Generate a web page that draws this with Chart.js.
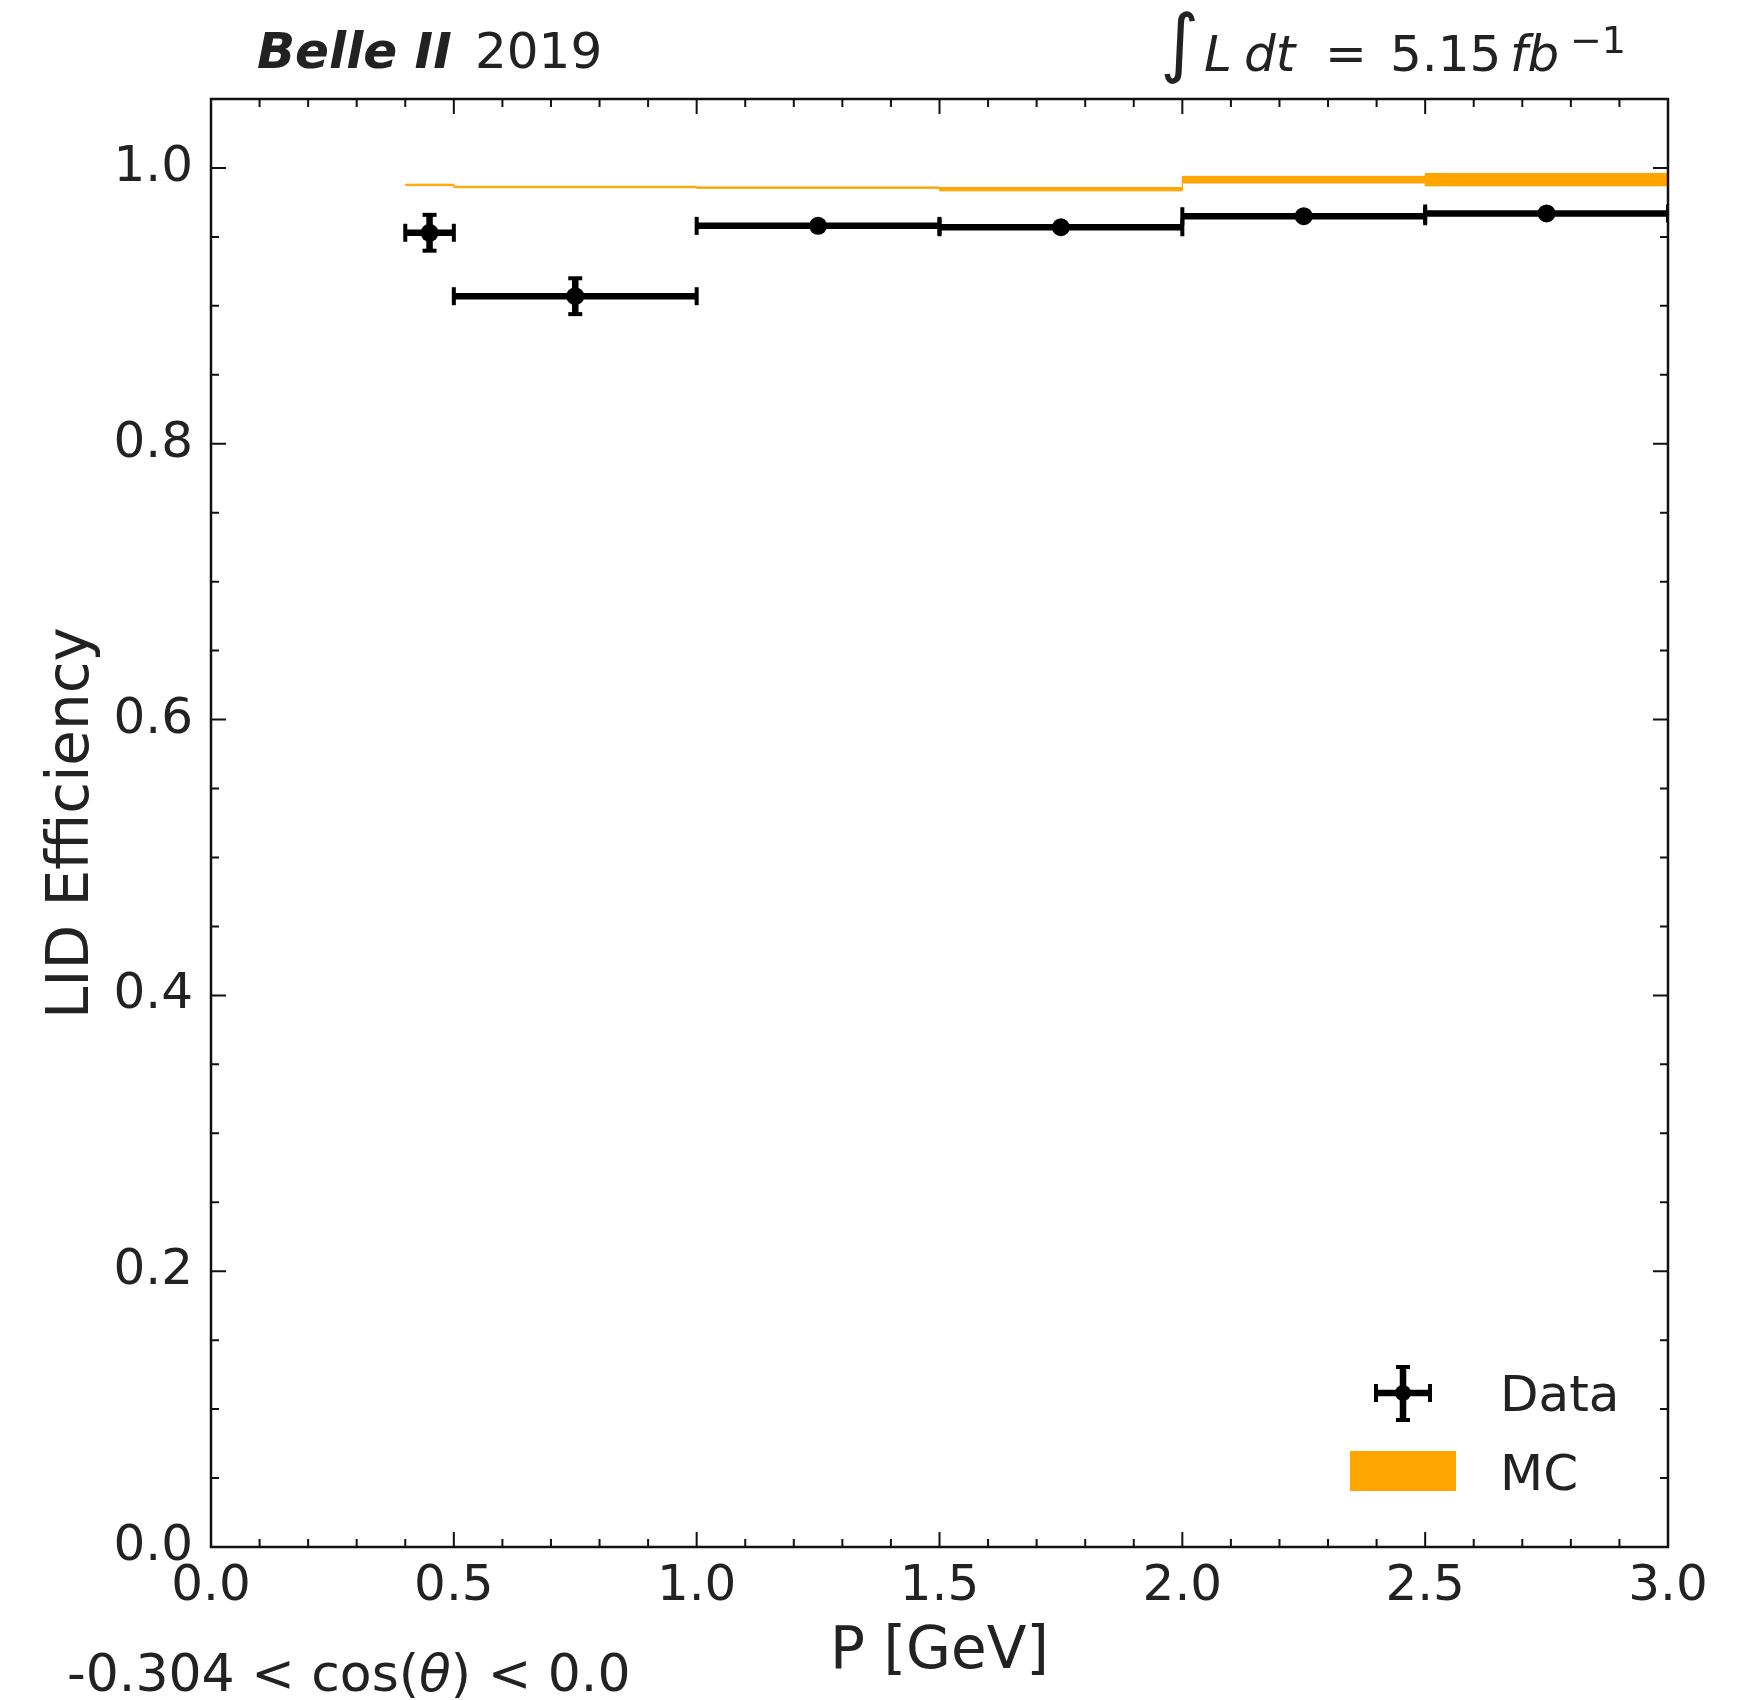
<!DOCTYPE html>
<html>
<head>
<meta charset="utf-8">
<script src="https://cdn.jsdelivr.net/npm/chart.js@4.4.1/dist/chart.umd.min.js"></script>
<style>
  html, body { margin: 0; padding: 0; background: #fff; }
  #wrap { width: 1758px; height: 1700px; position: relative; }
</style>
</head>
<body>
<div id="wrap"><canvas id="effChart"></canvas></div>
<script>
// bins in P [GeV]
const binLo = [0.4, 0.5, 1.0, 1.5, 2.0, 2.5];
const binHi = [0.5, 1.0, 1.5, 2.0, 2.5, 3.0];
// data efficiency and error
const dataEff = [0.953, 0.907, 0.958, 0.957, 0.965, 0.967];
const dataErr = [0.013, 0.013, 0.002, 0.002, 0.002, 0.002];
// MC efficiency and error (band)
const mcEff = [0.9877, 0.9862, 0.9857, 0.9846, 0.9915, 0.9915];
const mcErr = [0.0005, 0.0005, 0.0005, 0.0012, 0.0024, 0.0045];
// axis ticks
const xTicks = [0, 0.5, 1.0, 1.5, 2.0, 2.5, 3.0];
const yTicks = [0, 0.2, 0.4, 0.6, 0.8, 1.0];

const FONT = "'DejaVu Sans'";
const TXT = '#222';
const ORANGE = '#ffa500';

// MC band edges as step lines
const last = binHi.length - 1;
const mcUp = binLo.map((lo, i) => ({x: lo, y: mcEff[i] + mcErr[i]}));
mcUp.push({x: binHi[last], y: mcEff[last] + mcErr[last]});
const mcDown = binLo.map((lo, i) => ({x: lo, y: mcEff[i] - mcErr[i]}));
mcDown.push({x: binHi[last], y: mcEff[last] - mcErr[last]});

// data x error bars (segments separated by gaps)
const xBars = [];
binLo.forEach((lo, i) => {
  xBars.push({x: lo, y: dataEff[i]}, {x: binHi[i], y: dataEff[i]}, {x: binHi[i], y: null});
});
// data y error bars
const yBars = [];
binLo.forEach((lo, i) => {
  const c = (lo + binHi[i]) / 2;
  yBars.push({x: c, y: dataEff[i] - dataErr[i]}, {x: c, y: dataEff[i] + dataErr[i]}, {x: c, y: null});
});
const centers = binLo.map((lo, i) => ({x: (lo + binHi[i]) / 2, y: dataEff[i]}));

// inward ticks on all four sides + frame
const frameTicks = {
  id: 'frameTicks',
  afterDraw(chart) {
    const {ctx, chartArea: a, scales: {x, y}} = chart;
    ctx.save();
    ctx.strokeStyle = '#111';
    ctx.lineWidth = 2;
    const near = (v, arr) => arr.some(t => Math.abs(t - v) < 1e-6);
    for (let k = 0; k <= 30; k++) {
      const v = k / 10;
      const px = x.getPixelForValue(v);
      const len = near(v, xTicks) ? 15 : 8;
      ctx.beginPath();
      ctx.moveTo(px, a.bottom); ctx.lineTo(px, a.bottom - len);
      ctx.moveTo(px, a.top); ctx.lineTo(px, a.top + len);
      ctx.stroke();
    }
    for (let k = 0; k <= 21; k++) {
      const v = k / 20;
      const py = y.getPixelForValue(v);
      const len = near(v, yTicks) ? 15 : 8;
      ctx.beginPath();
      ctx.moveTo(a.left, py); ctx.lineTo(a.left + len, py);
      ctx.moveTo(a.right, py); ctx.lineTo(a.right - len, py);
      ctx.stroke();
    }
    ctx.lineWidth = 2.5;
    ctx.strokeRect(a.left, a.top, a.right - a.left, a.bottom - a.top);
    ctx.restore();
  }
};

// header texts, cut label and legend
const annotations = {
  id: 'annotations',
  afterDraw(chart) {
    const ctx = chart.ctx;
    ctx.save();
    ctx.fillStyle = TXT;
    ctx.textBaseline = 'alphabetic';
    ctx.textAlign = 'left';

    ctx.font = 'italic bold 50px ' + FONT;
    ctx.fillText('Belle II', 257, 68);
    ctx.font = '50px ' + FONT;
    ctx.fillText('2019', 475, 68);

    ctx.font = '75px ' + FONT;
    ctx.fillText('\u222B', 1160, 68);
    ctx.font = 'italic 50px ' + FONT;
    ctx.fillText('L', 1204, 71);
    ctx.fillText('dt', 1244, 71);
    ctx.font = '50px ' + FONT;
    ctx.fillText('=', 1325, 71);
    ctx.fillText('5.15', 1390, 71);
    ctx.font = 'italic 50px ' + FONT;
    ctx.fillText('fb', 1510, 71);
    ctx.font = '38px ' + FONT;
    ctx.fillText('\u22121', 1570, 53);

    let tx = 67;
    const parts = [['-0.304 < cos(', ''], ['\u03B8', 'italic '], [') < 0.0', '']];
    parts.forEach(([s, st]) => {
      ctx.font = st + '52px ' + FONT;
      ctx.fillText(s, tx, 1691);
      tx += ctx.measureText(s).width;
    });

    // legend: Data
    const cx = 1403, cy = 1393;
    ctx.strokeStyle = '#000';
    ctx.lineWidth = 6.5;
    ctx.beginPath();
    ctx.moveTo(1376, cy); ctx.lineTo(1430, cy);
    ctx.moveTo(cx, 1367); ctx.lineTo(cx, 1420);
    ctx.stroke();
    ctx.lineWidth = 4;
    ctx.beginPath();
    ctx.moveTo(1376, cy - 9); ctx.lineTo(1376, cy + 9);
    ctx.moveTo(1430, cy - 9); ctx.lineTo(1430, cy + 9);
    ctx.moveTo(cx - 7, 1367); ctx.lineTo(cx + 7, 1367);
    ctx.moveTo(cx - 7, 1420); ctx.lineTo(cx + 7, 1420);
    ctx.stroke();
    ctx.fillStyle = '#000';
    ctx.beginPath(); ctx.arc(cx, cy, 8, 0, Math.PI * 2); ctx.fill();
    // legend: MC
    ctx.fillStyle = ORANGE;
    ctx.fillRect(1350, 1451, 106, 40);
    ctx.fillStyle = TXT;
    ctx.font = '50px ' + FONT;
    ctx.fillText('Data', 1500, 1411);
    ctx.fillText('MC', 1500, 1490);
    ctx.restore();
  }
};

new Chart(document.getElementById('effChart'), {
  type: 'line',
  data: {
    datasets: [
      {
        label: 'MC up',
        data: mcUp,
        stepped: 'before',
        borderColor: ORANGE,
        borderWidth: 1,
        pointRadius: 0,
        fill: false
      },
      {
        label: 'MC',
        data: mcDown,
        stepped: 'before',
        borderColor: ORANGE,
        backgroundColor: ORANGE,
        borderWidth: 1,
        pointRadius: 0,
        fill: '-1'
      },
      {
        label: 'Data xerr',
        data: xBars,
        borderColor: '#000',
        borderWidth: 6.5,
        spanGaps: false,
        pointStyle: 'line',
        pointRotation: 90,
        pointRadius: 9,
        pointBorderWidth: 4,
        pointBorderColor: '#000'
      },
      {
        label: 'Data yerr',
        data: yBars,
        borderColor: '#000',
        borderWidth: 6.5,
        spanGaps: false,
        pointStyle: 'line',
        pointRotation: 0,
        pointRadius: 7,
        pointBorderWidth: 4,
        pointBorderColor: '#000'
      },
      {
        label: 'Data',
        data: centers,
        showLine: false,
        pointRadius: 9,
        pointBackgroundColor: '#000',
        pointBorderWidth: 0
      }
    ]
  },
  options: {
    responsive: true,
    maintainAspectRatio: false,
    animation: false,
    events: [],
    layout: { padding: { top: 99, right: 90, left: 0, bottom: 0 } },
    plugins: { legend: { display: false }, tooltip: { enabled: false } },
    scales: {
      x: {
        type: 'linear',
        min: 0,
        max: 3,
        afterBuildTicks: s => { s.ticks = xTicks.map(v => ({value: v})); },
        afterFit: s => { s.height = 153; },
        grid: { display: false, drawTicks: false },
        border: { display: false },
        ticks: {
          padding: 10,
          maxRotation: 0,
          autoSkip: false,
          color: TXT,
          font: { family: FONT, size: 50 },
          callback: v => v.toFixed(1)
        },
        title: {
          display: true,
          text: 'P [GeV]',
          color: TXT,
          font: { family: FONT, size: 58 },
          padding: { top: 0, bottom: 12 }
        }
      },
      y: {
        type: 'linear',
        min: 0,
        max: 1.05,
        afterBuildTicks: s => { s.ticks = yTicks.map(v => ({value: v})); },
        afterFit: s => { s.width = 211; },
        grid: { display: false, drawTicks: false },
        border: { display: false },
        ticks: {
          padding: 18,
          autoSkip: false,
          color: TXT,
          font: { family: FONT, size: 50 },
          callback: v => v.toFixed(1)
        },
        title: {
          display: true,
          text: 'LID Efficiency',
          color: TXT,
          font: { family: FONT, size: 58 },
          padding: { top: 38, bottom: 0 }
        }
      }
    }
  },
  plugins: [frameTicks, annotations]
});
</script>
</body>
</html>
